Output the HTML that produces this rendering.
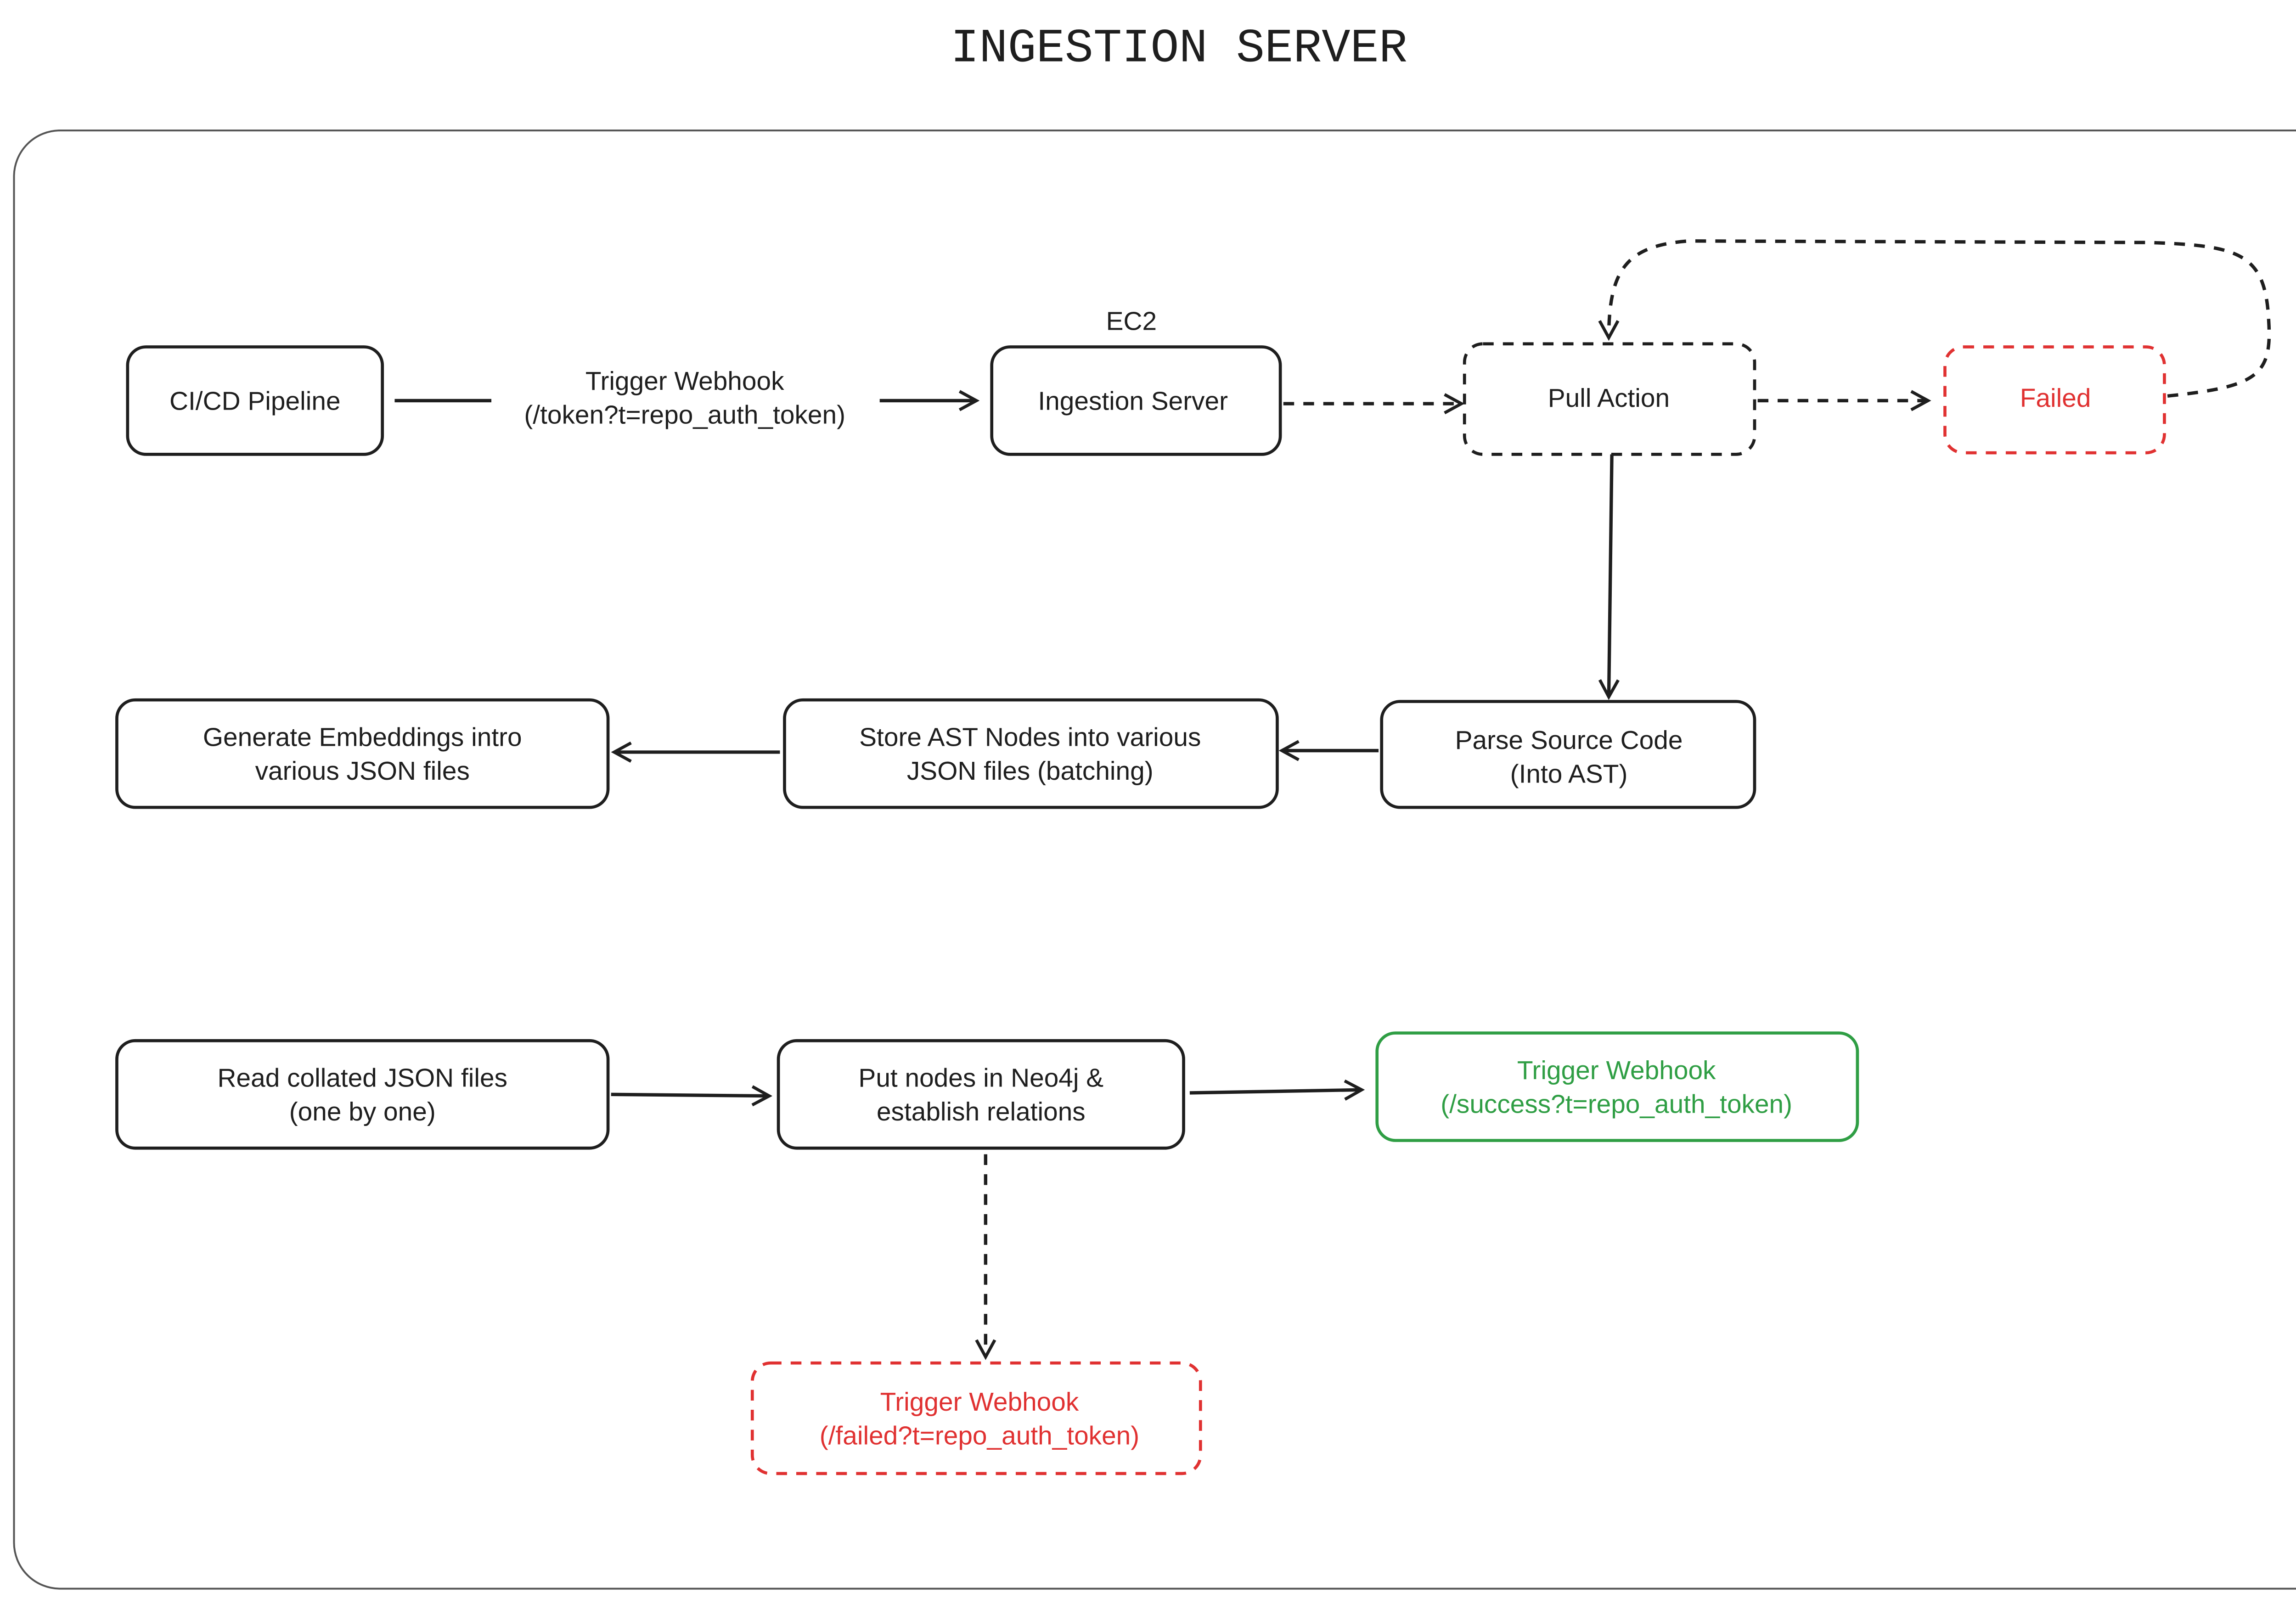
<!DOCTYPE html>
<html><head><meta charset="utf-8"><style>
html,body{margin:0;padding:0;background:#fff;width:5242px;height:3493px;overflow:hidden;}
svg{display:block;position:absolute;left:0;top:0;}
text{font-family:"Liberation Sans",sans-serif;font-size:17px;fill:#1e1e1e;text-anchor:middle;}
</style></head><body>
<svg width="5242" height="3493" viewBox="0 0 1568 1045" xmlns="http://www.w3.org/2000/svg">
<defs>
<marker id="a" markerWidth="14" markerHeight="14" refX="12" refY="7" orient="auto" markerUnits="userSpaceOnUse">
<path d="M1,1 L12,7 L1,13" fill="none" stroke="#1e1e1e" stroke-width="2"/>
</marker>
</defs>
<rect width="1568" height="1045" fill="#fff"/>
<text x="768" y="40" style="font-family:'Liberation Mono',monospace;font-size:31px;">INGESTION SERVER</text>
<rect x="9" y="85" width="1550" height="950" rx="30" fill="none" stroke="#555" stroke-width="1.2"/>

<g fill="none" stroke="#1e1e1e" stroke-width="2">
<rect x="83" y="226" width="166" height="70" rx="12"/>
<rect x="646" y="226" width="188" height="70" rx="12"/>
<rect x="954" y="224" width="189" height="72" rx="12" stroke-dasharray="7,6"/>
<rect x="900" y="457" width="243" height="69" rx="12"/>
<rect x="511" y="456" width="321" height="70" rx="12"/>
<rect x="76" y="456" width="320" height="70" rx="12"/>
<rect x="76" y="678" width="320" height="70" rx="12"/>
<rect x="507" y="678" width="264" height="70" rx="12"/>
</g>
<rect x="1267" y="226" width="143" height="69" rx="12" fill="none" stroke="#e03131" stroke-width="2" stroke-dasharray="7,6"/>
<rect x="897" y="673" width="313" height="70" rx="12" fill="none" stroke="#2f9e44" stroke-width="2"/>
<rect x="490" y="888" width="292" height="72" rx="12" fill="none" stroke="#e03131" stroke-width="2" stroke-dasharray="7,6"/>

<g fill="none" stroke="#1e1e1e" stroke-width="2.2">
<path d="M257,261 L320,261"/>
<path d="M573,261 L636,261" marker-end="url(#a)"/>
<path d="M836,263 L952,263" stroke-dasharray="7,6" marker-end="url(#a)"/>
<path d="M1145,261 L1256,261" stroke-dasharray="7,6" marker-end="url(#a)"/>
<path d="M1412,258 C1470,252 1480,245 1478,210 C1476,165 1460,160 1400,158 L1100,157 C1060,160 1048,175 1048,220" stroke-dasharray="7,6" marker-end="url(#a)"/>
<path d="M1050,296 L1048,454" marker-end="url(#a)"/>
<path d="M898,489 L835,489" marker-end="url(#a)"/>
<path d="M508,490 L400,490" marker-end="url(#a)"/>
<path d="M398,713 L501,714" marker-end="url(#a)"/>
<path d="M775,712 L887,710" marker-end="url(#a)"/>
<path d="M642,752 L642,884" stroke-dasharray="7,6" marker-end="url(#a)"/>
</g>

<text x="166" y="267">CI/CD Pipeline</text>
<text x="446" y="254">Trigger Webhook</text>
<text x="446" y="276">(/token?t=repo_auth_token)</text>
<text x="737" y="215">EC2</text>
<text x="738" y="267">Ingestion Server</text>
<text x="1048" y="265">Pull Action</text>
<text x="1339" y="265" style="fill:#e03131">Failed</text>
<text x="1022" y="488">Parse Source Code</text>
<text x="1022" y="510">(Into AST)</text>
<text x="671" y="486">Store AST Nodes into various</text>
<text x="671" y="508">JSON files (batching)</text>
<text x="236" y="486">Generate Embeddings intro</text>
<text x="236" y="508">various JSON files</text>
<text x="236" y="708">Read collated JSON files</text>
<text x="236" y="730">(one by one)</text>
<text x="639" y="708">Put nodes in Neo4j &amp;</text>
<text x="639" y="730">establish relations</text>
<text x="1053" y="703" style="fill:#2f9e44">Trigger Webhook</text>
<text x="1053" y="725" style="fill:#2f9e44">(/success?t=repo_auth_token)</text>
<text x="638" y="919" style="fill:#e03131">Trigger Webhook</text>
<text x="638" y="941" style="fill:#e03131">(/failed?t=repo_auth_token)</text>
</svg>
</body></html>
